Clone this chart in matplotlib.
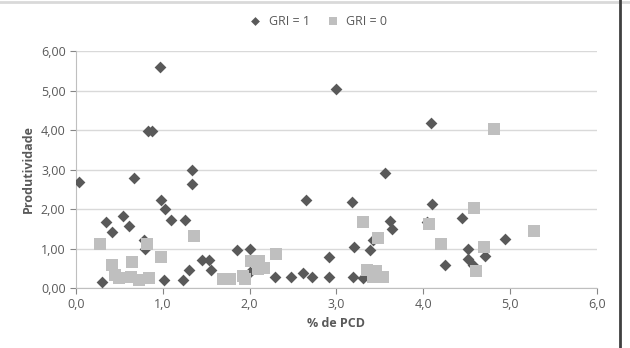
import matplotlib.pyplot as plt
from matplotlib.ticker import FuncFormatter

plt.rcParams['font.family'] = ['Open Sans', 'DejaVu Sans']

# GRI = 1 (diamonds)
x1 = [0.03, 0.30, 0.35, 0.41, 0.54, 0.61, 0.67, 0.78, 0.80, 0.83, 0.87, 0.97,
      0.98, 1.02, 1.01, 1.10, 1.23, 1.25, 1.30, 1.34, 1.34, 1.45, 1.53, 1.55,
      1.85, 2.00, 2.00, 2.29, 2.48, 2.61, 2.65, 2.72, 2.91, 2.91, 3.00, 3.18,
      3.20, 3.19, 3.31, 3.39, 3.42, 3.56, 3.62, 3.64, 4.04, 4.09, 4.10, 4.25,
      4.45, 4.51, 4.51, 4.57, 4.71, 4.94]
y1 = [2.68, 0.16, 1.67, 1.43, 1.82, 1.56, 2.79, 1.21, 1.00, 3.98, 3.97, 5.60,
      2.23, 1.99, 0.20, 1.72, 0.20, 1.73, 0.46, 2.98, 2.63, 0.71, 0.71, 0.45,
      0.96, 0.98, 0.41, 0.27, 0.27, 0.39, 2.23, 0.28, 0.78, 0.29, 5.03, 2.19,
      1.03, 0.27, 0.25, 0.97, 1.21, 2.90, 1.69, 1.50, 1.67, 4.18, 2.12, 0.57,
      1.76, 0.98, 0.74, 0.57, 0.81, 1.23]

# GRI = 0 (squares)
x0 = [0.28, 0.41, 0.45, 0.49, 0.64, 0.63, 0.73, 0.84, 0.82, 0.98, 1.36, 1.69,
      1.77, 1.92, 1.95, 2.01, 2.11, 2.10, 2.17, 2.30, 3.31, 3.48, 3.35, 3.45,
      3.42, 3.53, 4.07, 4.20, 4.58, 4.81, 4.61, 4.70, 5.27]
y0 = [1.11, 0.57, 0.32, 0.25, 0.66, 0.28, 0.21, 0.25, 1.12, 0.79, 1.31, 0.23,
      0.22, 0.30, 0.23, 0.69, 0.68, 0.49, 0.50, 0.86, 1.67, 1.27, 0.46, 0.43,
      0.28, 0.28, 1.61, 1.11, 2.03, 4.02, 0.43, 1.03, 1.44]

txt = '#595959'
fig = plt.figure(figsize=(6.3, 3.48), dpi=100)
ax = fig.add_axes([0.1206, 0.1724, 0.827, 0.681])

ax.scatter(x1, y1, marker='D', s=36, color='#595959', label='GRI = 1', zorder=3, linewidths=0)
ax.scatter(x0, y0, marker='s', s=72, color='#bfbfbf', label='GRI = 0', zorder=4, linewidths=0)

ax.set_xlim(0, 6)
ax.set_ylim(0, 6)
ax.set_xticks(range(7))
ax.set_yticks(range(7))
ax.xaxis.set_major_formatter(FuncFormatter(lambda v, p: f'{v:.1f}'.replace('.', ',')))
ax.yaxis.set_major_formatter(FuncFormatter(lambda v, p: f'{v:.2f}'.replace('.', ',')))
ax.tick_params(colors='#868686', labelcolor=txt, labelsize=9, length=4)
ax.grid(axis='y', color='#d9d9d9', linewidth=1)
ax.set_axisbelow(True)
for s in ['top', 'right']:
    ax.spines[s].set_visible(False)
for s in ['left', 'bottom']:
    ax.spines[s].set_color('#bfbfbf')

ax.set_xlabel('% de PCD', color=txt, fontsize=9, fontweight='bold')
ax.set_ylabel('Produtividade', color=txt, fontsize=9, fontweight='bold')

fig.legend(loc='upper center', bbox_to_anchor=(0.5, 0.99), ncol=2, frameon=False,
           fontsize=9, labelcolor=txt, handletextpad=0.1, columnspacing=0.8,
           markerscale=0.75)

fig.add_artist(plt.Line2D([0, 1], [0.995, 0.995], color='#d9d9d9', lw=2))
fig.add_artist(plt.Line2D([0.984, 0.984], [0, 1], color='#404040', lw=2))

fig.savefig('out.png', dpi=100)
